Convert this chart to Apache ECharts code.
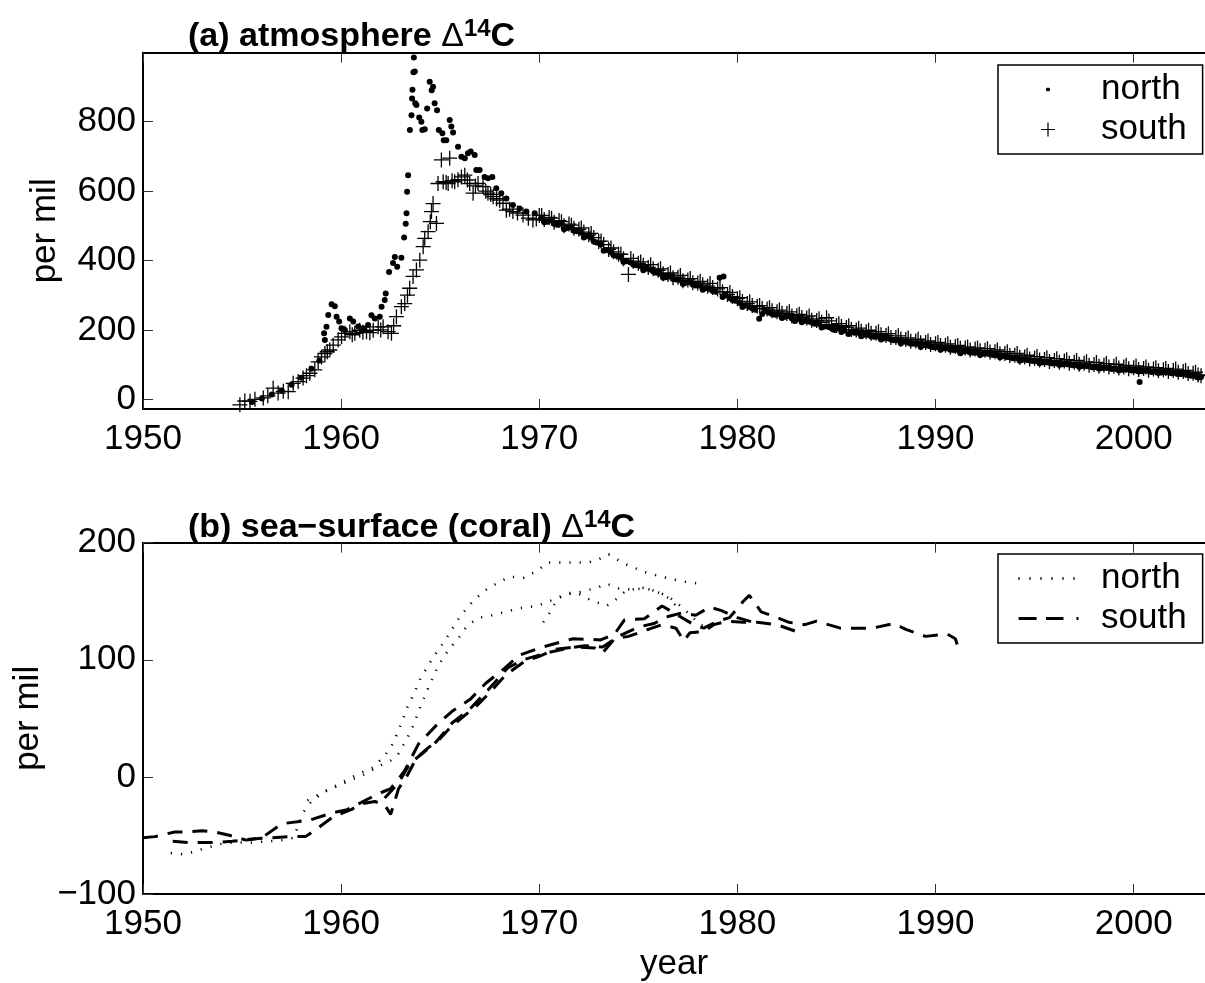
<!DOCTYPE html>
<html>
<head>
<meta charset="utf-8">
<script src="https://cdn.jsdelivr.net/npm/echarts@6/dist/echarts.min.js"></script>
<style>
  html, body { margin: 0; padding: 0; background: #fff; }
  #chart { width: 1205px; height: 983px; }
</style>
</head>
<body>
<div id="chart"></div>
<script>
// ---------- DATA ----------
const xTicks = [1950, 1960, 1970, 1980, 1990, 2000];
const yTicksAtm = [0, 200, 400, 600, 800];
const yTicksCoral = [-100, 0, 100, 200];

// (a) atmosphere, north (dots): [year, per mil]
const atmNorth = [
  [1955.5,-8],[1956.0,2],[1956.5,14],[1957.0,25],[1957.5,42],[1958.0,62],[1958.5,88],[1958.9,112],
  [1959.14,190],[1959.18,171],[1959.26,209],[1959.35,243],[1959.52,274],[1959.68,268],[1959.77,238],[1959.9,224],
  [1960.02,205],[1960.19,200],[1960.44,233],[1960.61,224],[1960.86,210],[1961.11,205],[1961.36,214],[1961.53,242],
  [1961.7,233],[1961.95,238],[1962.04,267],[1962.2,286],[1962.25,305],[1962.42,367],[1962.62,393],[1962.71,410],
  [1962.83,382],[1963.04,408],[1963.18,466],[1963.26,506],[1963.3,536],[1963.33,598],[1963.38,646],[1963.47,776],
  [1963.55,819],[1963.58,867],[1963.6,892],[1963.65,943],[1963.72,945],[1963.67,985],[1963.74,853],[1963.8,848],
  [1963.94,812],[1964.05,800],[1964.1,776],[1964.22,778],[1964.34,838],[1964.47,915],[1964.57,891],[1964.64,901],
  [1964.72,853],[1964.84,833],[1964.93,776],[1965.11,767],[1965.18,747],[1965.31,747],[1965.48,805],[1965.56,786],
  [1965.65,769],[1965.9,728],[1966.07,699],[1966.24,695],[1966.4,709],[1966.54,714],[1966.74,704],[1966.82,661],
  [1966.99,661],[1967.24,641],[1967.41,637],[1967.63,641],[1967.83,608],[1968.08,594],[1968.34,579],[1968.67,560],
  [1969.01,550],[1969.35,541],[1969.77,536],
  [1970.1,522],[1970.4,512],[1970.6,515],[1970.9,503],[1971.1,507],[1971.4,494],[1971.6,496],[1971.9,484],
  [1972.1,481],[1972.4,470],[1972.6,466],[1972.9,452],[1973.1,446],[1973.4,430],[1973.6,424],[1973.9,414],
  [1974.1,410],[1974.4,398],[1974.6,394],[1974.9,386],[1975.1,384],[1975.4,376],[1975.6,374],[1975.9,365],
  [1976.1,362],[1976.4,352],[1976.6,354],[1976.9,345],[1977.1,344],[1977.4,336],[1977.6,338],[1977.9,328],
  [1978.1,328],[1978.4,320],[1978.6,318],[1978.9,310],[1979.1,350],[1979.3,354],[1979.4,300],[1979.6,292],[1979.9,284],
  [1980.1,278],[1980.4,270],[1980.6,266],[1980.9,258],[1981.1,232],[1981.4,254],[1981.6,250],[1981.9,244],
  [1982.1,245],[1982.4,238],[1982.6,240],[1982.9,226],[1983.1,232],[1983.4,226],[1983.6,224],[1983.9,218],
  [1984.1,218],[1984.4,210],[1984.6,208],[1984.9,200],[1985.1,204],[1985.4,198],[1985.6,188],[1985.9,192],
  [1986.1,192],[1986.4,186],[1986.6,186],[1986.9,180],[1987.1,181],[1987.4,176],[1987.6,176],[1987.9,170],
  [1988.1,170],[1988.4,166],[1988.6,164],[1988.9,160],[1989.1,160],[1989.4,156],[1989.6,155],[1989.9,150],
  [1990.1,151],[1990.4,147],[1990.6,147],[1990.9,142],[1991.1,143],[1991.4,138],[1991.6,139],[1991.9,134],
  [1992.1,135],[1992.4,131],[1992.6,132],[1992.9,128],[1993.1,128],[1993.4,124],[1993.6,122],[1993.9,118],
  [1994.1,118],[1994.4,114],[1994.6,114],[1994.9,110],[1995.1,110],[1995.4,107],[1995.6,107],[1995.9,103],
  [1996.1,104],[1996.4,101],[1996.6,102],[1996.9,98],[1997.1,99],[1997.4,96],[1997.6,96],[1997.9,92],
  [1998.1,93],[1998.4,90],[1998.6,91],[1998.9,87],[1999.1,88],[1999.4,85],[1999.6,86],[1999.9,83],
  [2000.1,84],[2000.3,50],[2000.4,81],[2000.6,82],[2000.9,79],[2001.1,80],[2001.4,77],[2001.6,78],[2001.9,75],
  [2002.1,76],[2002.4,73],[2002.6,72],[2002.9,68],[2003.1,67],[2003.4,64],
  [1970.25,510],[1970.75,506],[1971.25,490],[1971.75,486],[1972.25,466],[1972.75,455],[1973.25,428],[1973.75,415],
  [1974.25,396],[1974.75,388],[1975.25,372],[1975.75,368],[1976.25,350],[1976.75,347],[1977.25,332],[1977.75,330],
  [1978.25,316],[1978.75,312],[1979.25,295],[1979.75,286],[1980.25,266],[1980.75,262],[1981.25,246],[1981.75,246],
  [1982.25,234],[1982.75,233],[1983.25,222],[1983.75,221],[1984.25,207],[1984.75,205],[1985.25,194],[1985.75,193],
  [1986.25,182],[1986.75,181],[1987.25,172],[1987.75,172],[1988.25,161],[1988.75,160],[1989.25,151],[1989.75,152],
  [1990.25,143],[1990.75,143],[1991.25,133],[1991.75,135],[1992.25,128],[1992.75,130],[1993.25,121],[1993.75,121],
  [1994.25,111],[1994.75,112],[1995.25,104],[1995.75,105],[1996.25,99],[1996.75,100],[1997.25,93],[1997.75,95],
  [1998.25,88],[1998.75,90],[1999.25,83],[1999.75,86],[2000.25,80],[2000.75,82],[2001.25,76],[2001.75,78],
  [2002.25,72],[2002.75,70],[2003.25,63]
];

// (a) atmosphere, south (plus): [year, per mil]
const atmSouth = [
  [1954.89,-16],[1955.14,-5],[1955.4,-6],[1955.65,0],[1956.07,4],[1956.3,10],[1956.57,32],[1956.82,18],
  [1957.08,23],[1957.33,22],[1957.58,46],[1957.83,51],[1958.08,61],[1958.25,68],[1958.42,75],[1958.67,85],
  [1958.84,108],[1959.01,122],[1959.18,132],[1959.3,137],[1959.43,142],[1959.6,156],[1959.85,171],[1960.02,180],
  [1960.19,190],[1960.44,195],[1960.56,186],[1960.69,190],[1960.94,199],[1961.1,193],[1961.28,195],[1961.45,192],
  [1961.62,199],[1961.87,209],[1962.0,200],[1962.12,209],[1962.37,195],[1962.54,190],[1962.65,212],[1962.79,238],
  [1963.04,267],[1963.21,276],[1963.35,300],[1963.46,320],[1963.63,354],[1963.8,373],[1963.97,401],[1964.14,440],
  [1964.22,464],[1964.39,483],[1964.5,512],[1964.56,541],[1964.64,564],[1964.81,507],[1964.89,622],[1965.06,690],
  [1965.15,627],[1965.3,625],[1965.4,622],[1965.48,695],[1965.6,630],[1965.73,627],[1965.9,633],[1966.07,641],
  [1966.24,646],[1966.37,632],[1966.49,622],[1966.66,594],[1966.78,615],[1966.91,622],[1967.16,613],[1967.3,600],
  [1967.41,594],[1967.55,590],[1967.67,584],[1967.85,578],[1968.0,574],[1968.17,565],[1968.34,545],[1968.5,548],
  [1968.67,541],[1968.9,537],[1969.18,531],[1969.45,522],[1969.68,517],[1969.85,520],
  [1970.0,530],[1970.25,518],[1970.5,524],[1970.75,510],[1971.0,515],[1971.25,500],[1971.5,505],[1971.75,493],
  [1972.0,490],[1972.25,482],[1972.5,474],[1972.75,466],[1973.0,455],[1973.25,446],[1973.5,432],[1973.75,425],
  [1974.0,418],[1974.25,405],[1974.5,360],[1974.75,398],[1975.0,392],[1975.25,386],[1975.5,380],[1975.75,376],
  [1976.0,372],[1976.25,362],[1976.5,360],[1976.75,350],[1977.0,352],[1977.25,342],[1977.5,344],[1977.75,336],
  [1978.0,335],[1978.25,330],[1978.5,326],[1978.75,322],[1979.0,318],[1979.25,310],[1979.5,302],[1979.75,296],
  [1980.0,290],[1980.25,282],[1980.5,276],[1980.75,270],[1981.0,268],[1981.25,262],[1981.5,260],[1981.75,255],
  [1982.0,252],[1982.25,248],[1982.5,247],[1982.75,240],[1983.0,241],[1983.25,236],[1983.5,234],[1983.75,228],
  [1984.0,227],[1984.25,222],[1984.5,235],[1984.75,215],[1985.0,213],[1985.25,210],[1985.5,207],[1985.75,201],
  [1986.0,200],[1986.25,196],[1986.5,195],[1986.75,190],[1987.0,190],[1987.25,186],[1987.5,184],[1987.75,178],
  [1988.0,178],[1988.25,174],[1988.5,172],[1988.75,167],[1989.0,168],[1989.25,163],[1989.5,164],[1989.75,158],
  [1990.0,160],[1990.25,155],[1990.5,156],[1990.75,150],[1991.0,152],[1991.25,147],[1991.5,148],[1991.75,142],
  [1992.0,145],[1992.25,140],[1992.5,141],[1992.75,136],[1993.0,137],[1993.25,131],[1993.5,132],[1993.75,126],
  [1994.0,127],[1994.25,121],[1994.5,122],[1994.75,116],[1995.0,118],[1995.25,113],[1995.5,115],[1995.75,109],
  [1996.0,112],[1996.25,107],[1996.5,110],[1996.75,104],[1997.0,107],[1997.25,101],[1997.5,104],[1997.75,98],
  [1998.0,100],[1998.25,95],[1998.5,98],[1998.75,93],[1999.0,95],[1999.25,90],[1999.5,93],[1999.75,88],
  [2000.0,91],[2000.25,86],[2000.5,89],[2000.75,84],[2001.0,87],[2001.25,82],[2001.5,85],[2001.75,80],
  [2002.0,83],[2002.25,78],[2002.5,80],[2002.75,74],[2003.0,75],[2003.25,70],[2003.4,68],
  [1970.12,530],[1970.62,522],[1971.12,512],[1971.62,502],[1972.12,494],[1972.62,478],[1973.12,456],[1973.62,436],
  [1974.12,418],[1974.62,406],[1975.12,396],[1975.62,388],[1976.12,376],[1976.62,364],[1977.12,357],[1977.62,348],
  [1978.12,340],[1978.62,334],[1979.12,322],[1979.62,308],[1980.12,293],[1980.62,281],[1981.12,270],[1981.62,264],
  [1982.12,257],[1982.62,252],[1983.12,245],[1983.62,240],[1984.12,232],[1984.62,226],[1985.12,218],[1985.62,212],
  [1986.12,205],[1986.62,199],[1987.12,195],[1987.62,189],[1988.12,183],[1988.62,177],[1989.12,173],[1989.62,168],
  [1990.12,164],[1990.62,160],[1991.12,155],[1991.62,151],[1992.12,148],[1992.62,146],[1993.12,142],[1993.62,137],
  [1994.12,132],[1994.62,127],[1995.12,123],[1995.62,120],[1996.12,117],[1996.62,114],[1997.12,112],[1997.62,108],
  [1998.12,106],[1998.62,103],[1999.12,101],[1999.62,98],[2000.12,96],[2000.62,93],[2001.12,91],[2001.62,89],
  [2002.12,87],[2002.62,83],[2003.12,78]
];

// (b) sea-surface (coral), north records (dotted)
const coralNorth1 = [
  [1951.4,-65],[1952.0,-66],[1952.6,-64],[1953.1,-61],[1954.0,-57],[1954.7,-56],[1955.5,-56],[1956.3,-55],
  [1957.0,-54],[1957.6,-52],[1958.1,-30],[1958.5,-21],[1959.2,-12],[1959.9,-6],[1960.8,2],[1961.6,8],
  [1962.2,18],[1962.6,28],[1963.0,44],[1963.3,58],[1963.7,72],[1964.0,84],[1964.6,101],[1965.3,118],
  [1966.0,137],[1966.7,151],[1967.4,161],[1968.5,171],[1969.2,170],[1969.9,176],[1970.4,183],[1971.0,183],
  [1971.7,183],[1972.4,183],[1972.9,185],[1973.5,190],[1974.3,182],[1975.3,175],[1976.4,170],[1977.2,167],[1978.1,165]
];
const coralNorth2 = [
  [1958.3,-20],[1959.0,-14],[1959.8,-8],[1960.6,-2],[1961.4,4],[1962.0,10],[1962.5,14],[1962.9,20],
  [1963.3,32],[1963.6,42],[1964.0,60],[1964.4,76],[1964.9,95],[1965.4,108],[1965.9,118],[1966.4,130],
  [1967.0,136],[1967.6,138],[1968.3,141],[1969.0,144],[1969.9,146],[1970.5,150],[1971.2,155],[1972.1,158],
  [1973.0,162],[1973.4,165],[1974.0,161],[1974.6,160],[1975.4,161],[1976.1,157],[1976.6,152],[1977.0,144]
];
const coralNorth3 = [
  [1970.2,132],[1970.6,142],[1970.9,152],[1971.5,157],[1971.9,157],[1972.6,151],[1973.4,146],[1973.9,152],
  [1974.3,158],[1975.1,162],[1975.6,160],[1976.0,158],[1976.6,153],[1977.2,145],[1977.7,137],[1978.1,130],[1978.6,128]
];

// (b) sea-surface (coral), south records (dashed)
const coralSouth1 = [
  [1950.0,-52],[1950.6,-51],[1951.6,-47],[1952.3,-47],[1953.0,-46],[1953.6,-47],[1954.4,-50],[1955.2,-54],
  [1956.0,-52],[1957.0,-40],[1958.4,-37],[1959.5,-31],[1960.3,-28],[1961.0,-22],[1961.8,-15],[1962.5,-10],
  [1963.2,5],[1963.9,28],[1964.8,44],[1965.6,56],[1966.5,66],[1967.3,80],[1968.2,92],[1969.0,104],
  [1970.2,111],[1971.7,118],[1973.1,117],[1973.8,122],[1974.3,134],[1975.3,135],[1976.2,146],[1976.8,140],
  [1977.8,130],[1978.3,127],[1979.0,133],[1979.6,136],[1980.3,150],[1980.6,155],[1981.2,141],[1982.0,136],
  [1982.6,132],[1983.4,130],[1984.0,133],[1985.2,127],[1986.8,127],[1987.9,131],[1988.5,126],[1989.5,120],
  [1990.6,122],[1991.0,118],[1991.15,110]
];
const coralSouth2 = [
  [1951.5,-55],[1952.3,-56],[1953.0,-56],[1953.6,-56],[1954.5,-55],[1955.5,-53],[1956.5,-52],[1957.4,-51],
  [1958.2,-51],[1958.8,-44],[1959.6,-34],[1960.5,-28],[1961.0,-23],[1961.7,-21],[1962.2,-24],[1962.5,-32],
  [1962.9,-10],[1963.3,0],[1963.8,16],[1964.4,25],[1964.9,31],[1965.5,42],[1966.2,52],[1966.8,60],
  [1967.5,72],[1968.3,87],[1969.2,98],[1970.0,103],[1970.8,109],[1971.8,111],[1972.8,110],[1973.2,106],
  [1973.8,118],[1974.5,120],[1975.5,126],[1976.2,130],[1976.9,127],[1977.3,116],[1977.6,123],[1978.3,124],
  [1978.8,130],[1979.5,133],[1980.3,132],[1981.0,132],[1982.0,130],[1983.0,124],[1983.3,123]
];
const coralSouth3 = [
  [1962.2,-18],[1962.9,-5],[1963.5,12],[1964.1,20],[1964.8,30],[1965.6,46],[1966.5,58],[1967.4,74],
  [1968.4,93],[1969.2,100],[1970.4,106],[1971.5,110],[1972.3,112],[1973.2,111],[1974.0,120],[1975.0,128],
  [1975.8,131],[1976.5,137],[1977.2,140],[1977.9,138],[1978.6,145],[1979.2,142],[1980.0,136],[1980.8,132]
];

// ---------- STYLE ----------
const FONT = "'Liberation Sans', Arial, Helvetica, sans-serif";
const plusSymbol = 'path://M0,6.85H15V8.15H0Z M6.85,0H8.15V15H6.85Z';
// legend icons: invisible zero-area strips fix the 88x14 icon box
const BOX = 'M0,0L88,0L0,0Z M0,14L88,14L0,14Z ';
const iconDot = 'path://' + BOX + 'M38,6.2L38.8,5.2L41.2,5.2L42,6.2L42,7.8L41.2,8.8L38.8,8.8L38,7.8Z';
const iconPlus = 'path://' + BOX + 'M33,6.4H47V7.6H33Z M39.4,0H40.6V14H39.4Z';
const iconDotted = 'path://' + BOX +
  'M10.4,5.5H11.6V8.5H10.4Z M21.4,5.5H22.6V8.5H21.4Z M32.4,5.5H33.6V8.5H32.4Z ' +
  'M43.4,5.5H44.6V8.5H43.4Z M54.4,5.5H55.6V8.5H54.4Z M65.4,5.5H66.6V8.5H65.4Z';
const iconDashed = 'path://' + BOX + 'M10.6,5.5H28.6V8.5H10.6Z M38,5.5H55.5V8.5H38Z M68.5,5.5H70.5V8.5H68.5Z';

const XMIN = 1950, XMAX = 2003.6;

function xAxisCfg(gridIndex, pos, withLabels, extra) {
  return Object.assign({
    type: 'value', gridIndex, position: pos, min: XMIN, max: XMAX,
    axisLine: { show: true, onZero: false, lineStyle: { color: '#000', width: 2 } },
    axisTick: { show: true, inside: true, length: 10, customValues: xTicks, lineStyle: { color: '#333', width: 1 } },
    axisLabel: { show: withLabels, customValues: xTicks, fontSize: 35, fontFamily: FONT, color: '#000', margin: 13,
      formatter: v => String(v) },
    splitLine: { show: false }
  }, extra || {});
}
function yAxisCfg(gridIndex, min, max, ticks, extra) {
  return Object.assign({
    type: 'value', gridIndex, position: 'left', min, max,
    axisLine: { show: true, onZero: false, lineStyle: { color: '#000', width: 2 } },
    axisTick: { show: true, inside: true, length: 10, customValues: ticks, lineStyle: { color: '#333', width: 1 } },
    axisLabel: { show: true, customValues: ticks, fontSize: 35, fontFamily: FONT, color: '#000', margin: 7,
      formatter: v => (v < 0 ? '\u2212' + Math.abs(v) : String(v)) },
    splitLine: { show: false },
    name: 'per mil', nameLocation: 'middle', nameRotate: 90, nameGap: 80,
    nameTextStyle: { fontSize: 35, fontFamily: FONT, color: '#000' }
  }, extra || {});
}

const titleRich = {
  d: { fontSize: 34, fontWeight: 'normal', fontFamily: FONT, color: '#000' },
  s: { fontSize: 24, fontWeight: 'bold', fontFamily: FONT, color: '#000', padding: [0, 0, 16, 0] }
};
const titleStyle = { fontSize: 34, fontWeight: 'bold', fontFamily: FONT, color: '#000', rich: titleRich };

function dottedLine(name, data) {
  return { type: 'line', name, xAxisIndex: 2, yAxisIndex: 1, data, showSymbol: false, symbol: 'none',
    silent: true, lineStyle: { color: '#000', width: 2.5, type: [1.2, 9], cap: 'butt' }, itemStyle: { color: '#000' } };
}
function dashedLine(name, data) {
  return { type: 'line', name, xAxisIndex: 2, yAxisIndex: 1, data, showSymbol: false, symbol: 'none',
    silent: true, lineStyle: { color: '#000', width: 3, type: [15, 10], cap: 'butt' }, itemStyle: { color: '#000' } };
}

const legendBase = {
  orient: 'vertical', left: 998, itemWidth: 88, itemHeight: 14, itemGap: 5,
  padding: [7, 16, 7, 10], borderColor: '#000', borderWidth: 1.5, backgroundColor: '#fff',
  textStyle: { fontSize: 35, fontFamily: FONT, color: '#000' }, selectedMode: false,
  itemStyle: { borderWidth: 0 }, symbolKeepAspect: true
};

const option = {
  animation: false,
  backgroundColor: '#fff',
  title: [
    { text: '(a) atmosphere {d|\u0394}{s|14}C', left: 183, top: 12, textStyle: titleStyle },
    { text: '(b) sea\u2212surface (coral) {d|\u0394}{s|14}C', left: 183, top: 503, textStyle: titleStyle }
  ],
  legend: [
    Object.assign({}, legendBase, { top: 65, data: [{ name: 'north', icon: iconDot }, { name: 'south', icon: iconPlus }] }),
    Object.assign({}, legendBase, { top: 554,
      data: [{ name: 'north (coral)', icon: iconDotted }, { name: 'south (coral)', icon: iconDashed }],
      formatter: n => n.replace(' (coral)', '') })
  ],
  grid: [
    { left: 143, top: 52.7, width: 1063, height: 356.3 },
    { left: 143, top: 542.7, width: 1063, height: 356 }
  ],
  xAxis: [
    xAxisCfg(0, 'bottom', true),
    xAxisCfg(0, 'top', false),
    xAxisCfg(1, 'bottom', true, { name: 'year', nameLocation: 'middle', nameGap: 53,
      nameTextStyle: { fontSize: 35, fontFamily: FONT, color: '#000' } }),
    xAxisCfg(1, 'top', false)
  ],
  yAxis: [
    yAxisCfg(0, -28, 999, yTicksAtm),
    yAxisCfg(1, -100, 200, yTicksCoral, { interval: 100 })
  ],
  series: [
    { type: 'scatter', name: 'north', xAxisIndex: 0, yAxisIndex: 0, data: atmNorth, symbol: 'circle', symbolSize: 6,
      itemStyle: { color: '#000', opacity: 1 }, silent: true },
    { type: 'scatter', name: 'south', xAxisIndex: 0, yAxisIndex: 0, data: atmSouth, symbol: plusSymbol, symbolSize: 15,
      itemStyle: { color: '#000', opacity: 1 }, silent: true },
    dottedLine('north (coral)', coralNorth1),
    dottedLine('north (coral)', coralNorth2),
    dottedLine('north (coral)', coralNorth3),
    dashedLine('south (coral)', coralSouth1),
    dashedLine('south (coral)', coralSouth2),
    dashedLine('south (coral)', coralSouth3)
  ]
};

const chart = echarts.init(document.getElementById('chart'), null, { renderer: 'canvas' });
chart.setOption(option);
</script>
</body>
</html>
